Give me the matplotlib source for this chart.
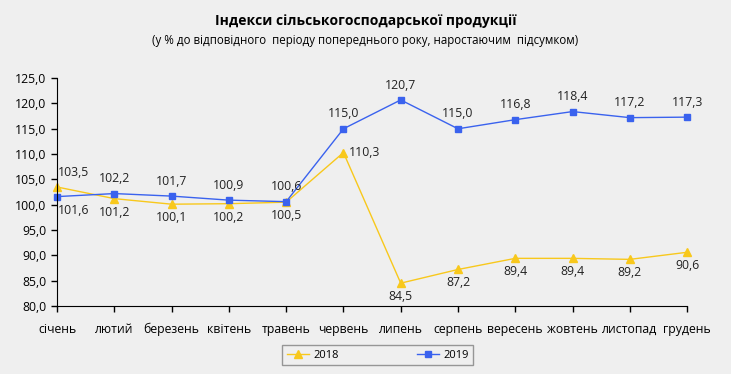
import numpy as np
import matplotlib.pyplot as plt

plt.rcParams['font.family'] = ['Open Sans', 'DejaVu Sans']

months = ['січень', 'лютий', 'березень', 'квітень', 'травень', 'червень',
          'липень', 'серпень', 'вересень', 'жовтень', 'листопад', 'грудень']
idx_2018 = [103.5, 101.2, 100.1, 100.2, 100.5, 110.3, 84.5, 87.2, 89.4, 89.4, 89.2, 90.6]
idx_2019 = [101.6, 102.2, 101.7, 100.9, 100.6, 115.0, 120.7, 115.0, 116.8, 118.4, 117.2, 117.3]

# label placement: 'a' above, 'b' below, 'r' right
pos_2018 = ['a', 'b', 'b', 'b', 'b', 'r', 'b', 'b', 'b', 'b', 'b', 'b']
pos_2019 = ['b', 'a', 'a', 'a', 'a', 'a', 'a', 'a', 'a', 'a', 'a', 'a']

bg = '#efefef'
c18 = '#f8c81c'
c19 = '#3a62ee'

fig = plt.figure(figsize=(7.31, 3.74), dpi=100, facecolor=bg)
ax = fig.add_axes([0.078, 0.182, 0.862, 0.609])
ax.set_facecolor(bg)

x = np.arange(len(months))
ax.plot(x, idx_2018, color=c18, lw=1, marker='^', ms=6, label='2018', clip_on=False)
ax.plot(x, idx_2019, color=c19, lw=1, marker='s', ms=5, label='2019', clip_on=False)


def put_labels(vals, where):
    for i, (v, w) in enumerate(zip(vals, where)):
        txt = '{:.1f}'.format(v).replace('.', ',')
        if w == 'a':
            off, ha, va = (0, 6), 'center', 'bottom'
        elif w == 'b':
            off, ha, va = (0, -5), 'center', 'top'
        else:
            off, ha, va = (4, 0), 'left', 'center'
        if i == 0:
            off = (off[0] + 12, off[1])
        ax.annotate(txt, (x[i], v), xytext=off, textcoords='offset points',
                    ha=ha, va=va, fontsize=8.8, color='#222222')


put_labels(idx_2018, pos_2018)
put_labels(idx_2019, pos_2019)

ax.set_xlim(0, 11)
ax.set_ylim(80, 125)
ax.set_yticks(np.arange(80, 126, 5))
ax.set_yticklabels(['{:.1f}'.format(t).replace('.', ',') for t in np.arange(80, 126, 5)])
ax.set_xticks(x)
ax.set_xticklabels(months)
ax.tick_params(axis='both', labelsize=8.8, direction='out', length=4, width=1, colors='black')
ax.tick_params(axis='x', pad=8)
for s in ['top', 'right']:
    ax.spines[s].set_visible(False)
for s in ['left', 'bottom']:
    ax.spines[s].set_color('black')

fig.text(0.5, 0.945, 'Індекси сільськогосподарської продукції', ha='center', va='center',
         fontsize=10, fontweight='bold')
fig.text(0.5, 0.893, '(у % до відповідного  періоду попереднього року, наростаючим  підсумком)',
         ha='center', va='center', fontsize=8.3)

handles, labels = ax.get_legend_handles_labels()
leg = fig.legend(handles, labels, loc='center', bbox_to_anchor=(0.517, 0.05), ncol=2,
                 fontsize=8, frameon=True, fancybox=False, edgecolor='#808080',
                 facecolor=bg, handlelength=2, handletextpad=0.4, columnspacing=7,
                 borderpad=0.4, borderaxespad=0)
leg.get_frame().set_linewidth(1)

fig.savefig('out.png', dpi=100, facecolor=bg)
